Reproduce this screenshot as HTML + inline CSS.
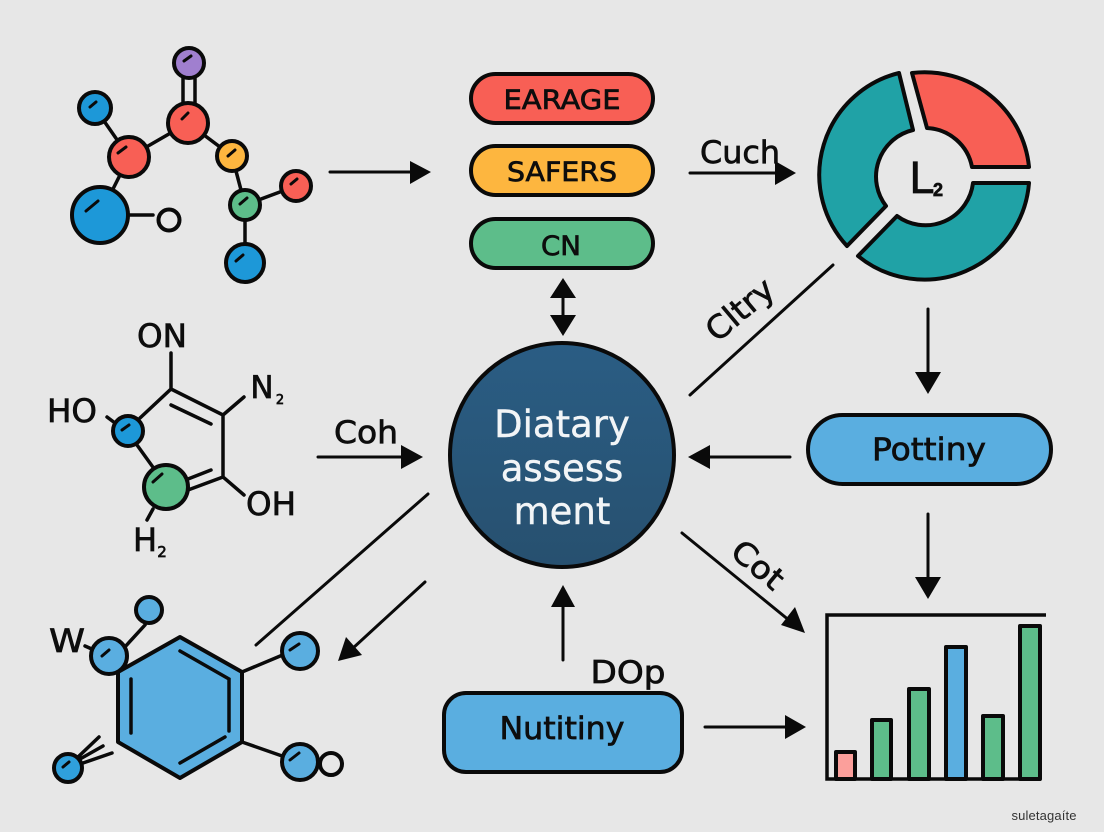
<!DOCTYPE html>
<html><head><meta charset="utf-8"><style>
html,body{margin:0;padding:0;background:#e7e7e7}
svg{display:block}
text{font-family:"DejaVu Sans","Liberation Sans",sans-serif;fill:#0d0d0d;text-anchor:middle;stroke:#0d0d0d;stroke-width:.7;paint-order:stroke}
.w{fill:#f2f5f7;stroke:#f2f5f7;stroke-width:.4}
.l{stroke:#0a0a0a;stroke-width:3;fill:none;stroke-linecap:round}
.c{stroke:#0a0a0a;stroke-width:4;}
.h{stroke:#0a0a0a;stroke-width:3;stroke-linecap:round;fill:none}
.p{fill:#0a0a0a}
.s{stroke:#0a0a0a;stroke-width:4;stroke-linejoin:round}
</style></head><body>
<svg width="1104" height="832" viewBox="0 0 1104 832" xmlns="http://www.w3.org/2000/svg">
<defs><linearGradient id="g" x1="0" y1="0" x2="0" y2="1"><stop offset="0" stop-color="#2a5d84"/><stop offset="1" stop-color="#27506f"/></linearGradient></defs>
<rect width="1104" height="832" fill="#e7e7e7"/>

<!-- molecule 1 -->
<g class="l" style="stroke-width:3.5">
<path d="M183 78V108M195 78V108M95 108L129 157M129 157L188 123M188 123L232 156M232 156L245 205M245 205L296 186M245 205V263M129 157L100 215M100 215H153"/>
</g>
<g class="c">
<circle cx="189" cy="63" r="15" fill="#a07fcf"/>
<circle cx="188" cy="123" r="20" fill="#f85f55"/>
<circle cx="95" cy="108" r="16" fill="#1d98d8"/>
<circle cx="129" cy="157" r="20" fill="#f85f55"/>
<circle cx="100" cy="215" r="28" fill="#1d98d8"/>
<circle cx="169" cy="220" r="10.5" fill="#e7e7e7"/>
<circle cx="232" cy="156" r="15" fill="#fdb63f"/>
<circle cx="245" cy="205" r="15" fill="#5dbd8a"/>
<circle cx="296" cy="186" r="15" fill="#f85f55"/>
<circle cx="245" cy="263" r="19" fill="#1d98d8"/>
</g>
<path class="h" d="M184 61L191 56M182 119L188 113M90 107L96 102M118 153L126 147M86 211L98 201M228 156L235 150M240 204L247 198M291 184L297 179M236 261L243 255"/>

<!-- molecule 2 -->
<path class="l" style="stroke-width:3.5" d="M171 353V389L223 415L244 397M171 389L140 418M171 405L211 424M223 415V477L244 495M223 477L188 490M211 470L188 479M107 417L115 423M137 445L155 470M153 509L147 520"/>
<circle class="c" cx="128" cy="431" r="15" fill="#1d98d8"/>
<circle class="c" cx="166" cy="487" r="22" fill="#5dbd8a"/>
<path class="h" d="M122 430L129 425M153 482L162 474"/>
<text x="162" y="347" font-size="32" textLength="50" lengthAdjust="spacingAndGlyphs">ON</text>
<text x="72" y="422" font-size="32" textLength="50" lengthAdjust="spacingAndGlyphs">HO</text>
<text x="262" y="398" font-size="31">N</text>
<text x="280" y="404" font-size="13">2</text>
<text x="271" y="515" font-size="32" textLength="50" lengthAdjust="spacingAndGlyphs">OH</text>
<text x="145" y="551" font-size="32">H</text>
<text x="162" y="557" font-size="15">2</text>

<!-- hexagon -->
<path d="M180 637L242 672V742L180 778L118 742V672Z" fill="#5aaee0" stroke="#0a0a0a" stroke-width="4" stroke-linejoin="round"/>
<path class="l" style="stroke-width:3.5" d="M180 651L229 679V731M131 679V733M180 763L225 737M123 649L145 625M85 646L94 650M242 672L285 654M242 742L285 757M78 757L99 737M80 759L103 746M83 763L112 753"/>
<g class="c">
<circle cx="109" cy="656" r="18" fill="#5aaee0"/>
<circle cx="149" cy="610" r="13" fill="#5aaee0"/>
<circle cx="300" cy="651" r="18" fill="#5aaee0"/>
<circle cx="300" cy="762" r="18" fill="#5aaee0"/>
<circle cx="331" cy="764" r="11" fill="#e7e7e7"/>
<circle cx="68" cy="768" r="14" fill="#2fa0dc"/>
</g>
<path class="h" d="M102 656L109 650M290 650L299 644M290 760L299 753M63 767L69 762"/>
<text x="67" y="652" font-size="32" textLength="36" lengthAdjust="spacingAndGlyphs">W</text>

<!-- pills -->
<rect class="s" x="471" y="74" width="182" height="49" rx="24.5" fill="#f85f55"/>
<rect class="s" x="471" y="146" width="182" height="49" rx="24.5" fill="#fdb63f"/>
<rect class="s" x="471" y="219" width="182" height="49" rx="24.5" fill="#5dbd8a"/>
<text x="562" y="109" font-size="27" textLength="117" lengthAdjust="spacingAndGlyphs">EARAGE</text>
<text x="562" y="181" font-size="27" textLength="110" lengthAdjust="spacingAndGlyphs">SAFERS</text>
<text x="561" y="255" font-size="27" textLength="40" lengthAdjust="spacingAndGlyphs">CN</text>

<!-- double arrow -->
<path class="l" d="M563 295V318"/>
<path class="p" d="M563 278L576 298H550ZM563 336L550 315H576Z"/>

<!-- center -->
<circle cx="562" cy="455" r="112" fill="url(#g)" stroke="#0a0a0a" stroke-width="4"/>
<text class="w" x="562" y="437" font-size="37">Diatary</text>
<text class="w" x="562" y="481" font-size="37">assess</text>
<text class="w" x="562" y="524" font-size="37">ment</text>

<!-- donut -->
<g stroke="#0a0a0a" stroke-width="4" stroke-linejoin="round">
<path d="M912 73A105 105 0 0 1 1029 167H972A48 48 0 0 0 927 128Z" fill="#f85f55"/>
<path d="M899 73A105 105 0 0 0 847 246L886 206A48 48 0 0 1 913 130Z" fill="#20a2a6"/>
<path d="M858 256A105 105 0 0 0 1029 183H973A48 48 0 0 1 897 216Z" fill="#20a2a6"/>
</g>
<text x="922" y="193" font-size="45" style="font-family:'Liberation Sans',sans-serif">L</text>
<text x="938" y="196" font-size="18" style="font-family:'Liberation Sans',sans-serif;font-weight:bold">2</text>

<!-- connectors -->
<g class="l">
<path d="M330 172H412M690 173H777M318 457H404M708 457H790M928 309V375M928 514V580M833 265L690 395M428 494L256 645M425 582L352 649M563 660V604M682 533L790 621M705 727H787"/>
</g>
<g class="p">
<path d="M431 172L410 161V184Z"/>
<path d="M796 173L775 161V185Z"/>
<path d="M423 457L401 445V469Z"/>
<path d="M688 457L710 445V469Z"/>
<path d="M928 394L915 372H941Z"/>
<path d="M928 599L915 577H941Z"/>
<path d="M338 661L346 637L362 655Z"/>
<path d="M563 585L551 607H575Z"/>
<path d="M805 633L781 625L795 607Z"/>
<path d="M806 727L785 715V739Z"/>
</g>
<text x="740" y="163" font-size="31" textLength="80" lengthAdjust="spacingAndGlyphs">Cuch</text>
<text x="366" y="443" font-size="31" textLength="64" lengthAdjust="spacingAndGlyphs">Coh</text>
<text transform="translate(747 318) rotate(-40)" font-size="32" textLength="78" lengthAdjust="spacingAndGlyphs">Cltry</text>
<text transform="translate(751 573) rotate(40)" font-size="31" textLength="58" lengthAdjust="spacingAndGlyphs">Cot</text>
<text x="628" y="683" font-size="31" textLength="75" lengthAdjust="spacingAndGlyphs">DOp</text>

<!-- blue nodes -->
<rect class="s" x="808" y="415" width="243" height="69" rx="34.5" fill="#5aaee0"/>
<text x="929" y="460" font-size="31" textLength="114" lengthAdjust="spacingAndGlyphs">Pottiny</text>
<rect class="s" x="444" y="693" width="238" height="79" rx="22" fill="#5aaee0"/>
<text x="562" y="739" font-size="31" textLength="125" lengthAdjust="spacingAndGlyphs">Nutitiny</text>

<!-- chart -->
<g stroke="#0a0a0a" stroke-width="4" stroke-linejoin="round">
<rect x="836" y="752" width="19" height="27" fill="#fb9f9b"/>
<rect x="872" y="720" width="19" height="59" fill="#5dbd8a"/>
<rect x="909" y="689" width="20" height="90" fill="#5dbd8a"/>
<rect x="946" y="647" width="20" height="132" fill="#5aaee0"/>
<rect x="983" y="716" width="20" height="63" fill="#5dbd8a"/>
<rect x="1020" y="626" width="20" height="153" fill="#5dbd8a"/>
</g>
<path d="M1046 615H827V779H1041" fill="none" stroke="#0a0a0a" stroke-width="3.5"/>
<text x="1044" y="820" font-size="13" style="font-family:'Liberation Sans',sans-serif;fill:#333;stroke:none" textLength="65">suletagaíte</text>
</svg>
</body></html>
